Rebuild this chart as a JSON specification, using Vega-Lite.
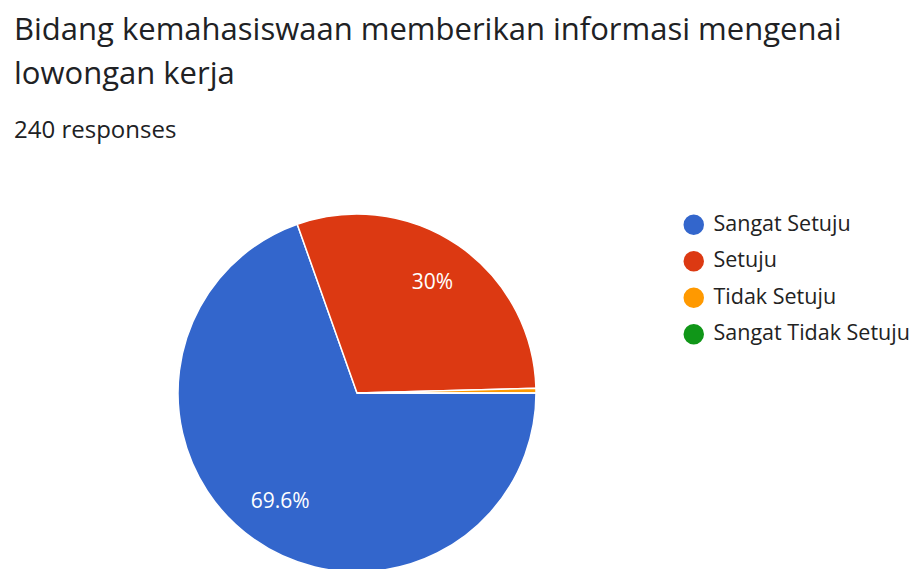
{
  "$schema": "https://vega.github.io/schema/vega-lite/v6.json",
  "autosize": {"type": "none"},
  "width": 686,
  "height": 352,
  "padding": {"left": 14, "top": 217, "right": 218, "bottom": 0},
  "background": "white",
  "title": {
    "text": ["Bidang kemahasiswaan memberikan informasi mengenai", "lowongan kerja"],
    "subtitle": "240 responses",
    "anchor": "start",
    "orient": "top",
    "font": "Open Sans",
    "fontSize": 31,
    "fontWeight": "normal",
    "color": "#202124",
    "lineHeight": 44,
    "subtitleFont": "Open Sans",
    "subtitleFontSize": 24,
    "subtitleColor": "#202124",
    "subtitlePadding": 28,
    "offset": 67
  },
  "data": {
    "values": [
      {"answer": "Sangat Setuju", "count": 167, "rank": 1, "label": "69.6%"},
      {"answer": "Setuju", "count": 72, "rank": 2, "label": "30%"},
      {"answer": "Tidak Setuju", "count": 1, "rank": 3, "label": ""},
      {"answer": "Sangat Tidak Setuju", "count": 0, "rank": 4, "label": ""}
    ]
  },
  "layer": [
    {
      "mark": {"type": "arc", "outerRadius": 179, "stroke": "white", "strokeWidth": 1.5},
      "encoding": {
        "theta": {"field": "count", "type": "quantitative", "stack": true, "scale": {"range": [1.5707963, 7.8539816]}},
        "order": {"field": "rank", "type": "quantitative"},
        "color": {
          "field": "answer",
          "type": "nominal",
          "scale": {
            "domain": ["Sangat Setuju", "Setuju", "Tidak Setuju", "Sangat Tidak Setuju"],
            "range": ["#3366cc", "#dc3912", "#ff9900", "#109618"]
          },
          "legend": {
            "title": null,
            "orient": "none",
            "legendX": 669,
            "legendY": -3,
            "symbolType": "circle",
            "symbolSize": 420,
            "symbolStrokeWidth": 0,
            "labelFont": "Open Sans",
            "labelFontSize": 21.5,
            "labelColor": "#222222",
            "labelOffset": 9,
            "rowPadding": 13.5,
            "labelLimit": 400
          }
        }
      }
    },
    {
      "mark": {"type": "text", "radius": 133, "color": "white", "font": "Open Sans", "fontSize": 21},
      "encoding": {
        "theta": {"field": "count", "type": "quantitative", "stack": true},
        "order": {"field": "rank", "type": "quantitative"},
        "detail": {"field": "answer", "type": "nominal"},
        "text": {"field": "label", "type": "nominal"}
      }
    }
  ],
  "config": {"view": {"stroke": null}}
}
